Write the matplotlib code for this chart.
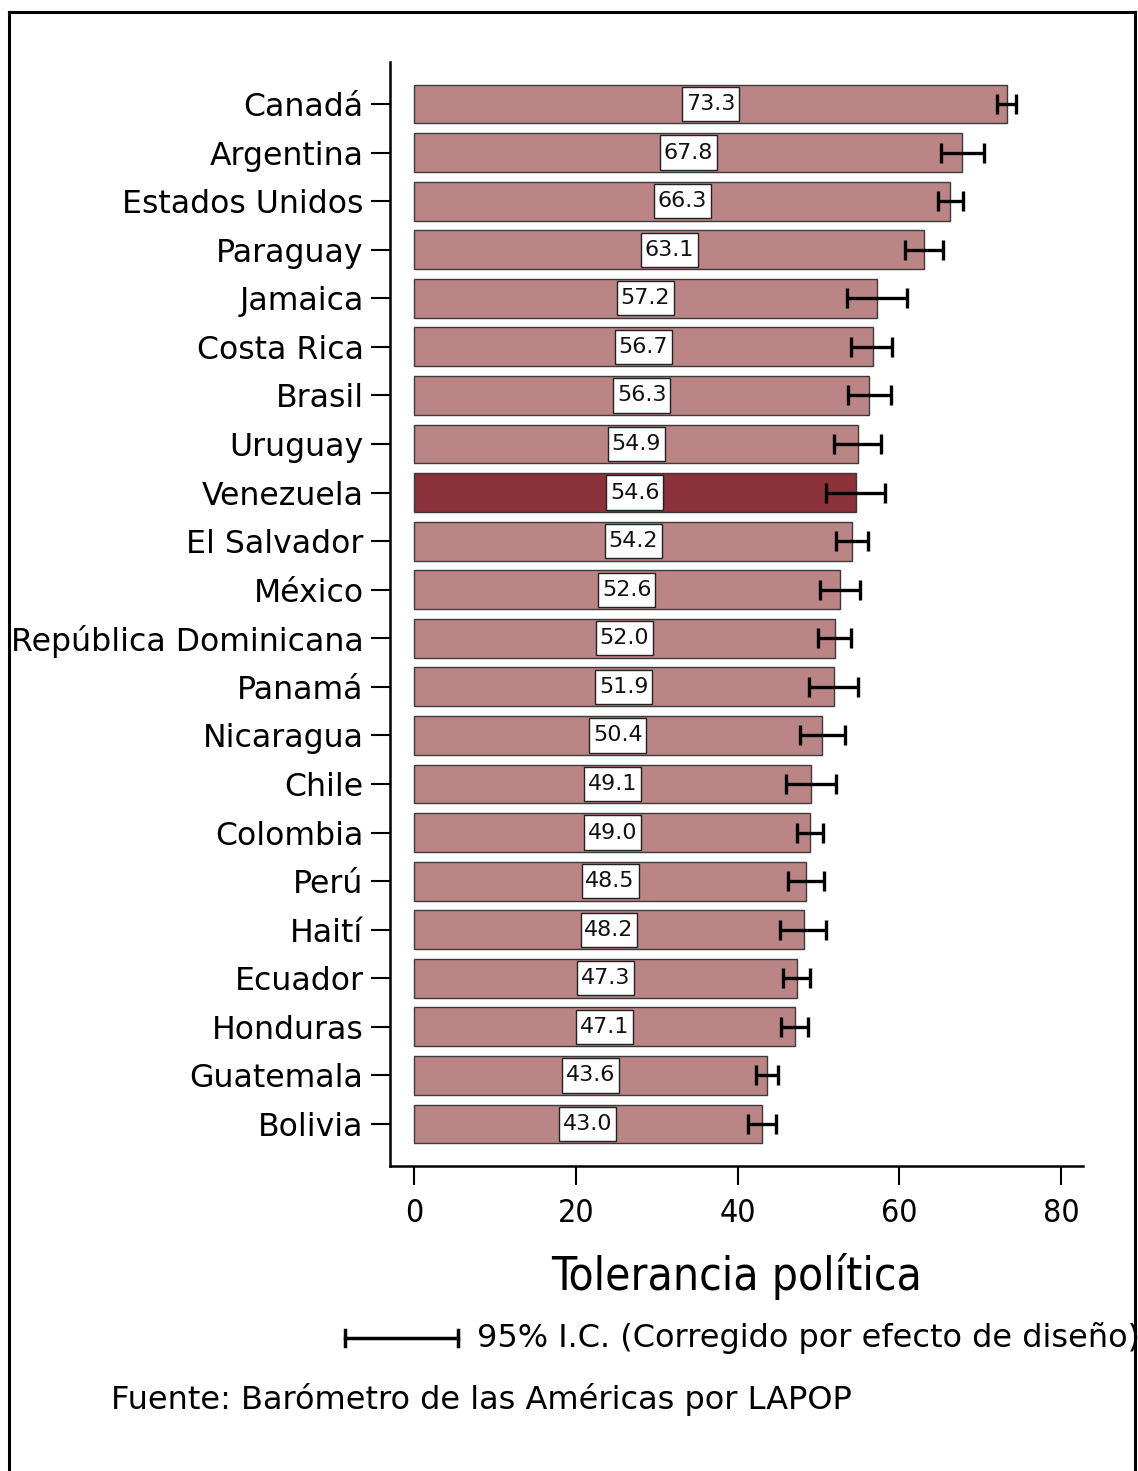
import matplotlib
matplotlib.use("Agg")
import matplotlib.pyplot as plt
from matplotlib.lines import Line2D

countries = ["Canadá", "Argentina", "Estados Unidos", "Paraguay", "Jamaica",
             "Costa Rica", "Brasil", "Uruguay", "Venezuela", "El Salvador",
             "México", "República Dominicana", "Panamá", "Nicaragua", "Chile",
             "Colombia", "Perú", "Haití", "Ecuador", "Honduras", "Guatemala",
             "Bolivia"]
values = [73.3, 67.8, 66.3, 63.1, 57.2, 56.7, 56.3, 54.9, 54.6, 54.2, 52.6,
          52.0, 51.9, 50.4, 49.1, 49.0, 48.5, 48.2, 47.3, 47.1, 43.6, 43.0]
ci_low = [72.1, 65.2, 64.8, 60.7, 53.5, 54.0, 53.7, 51.9, 50.9, 52.2, 50.2,
          50.0, 48.8, 47.7, 46.0, 47.4, 46.2, 45.3, 45.6, 45.4, 42.3, 41.3]
ci_high = [74.4, 70.4, 67.9, 65.4, 61.0, 59.1, 59.0, 57.7, 58.2, 56.1, 55.1,
           54.0, 54.9, 53.3, 52.2, 50.6, 50.7, 50.9, 49.0, 48.7, 45.0, 44.8]
xticks = [0, 20, 40, 60, 80]
highlight = "Venezuela"

base_color = "#BC8585"
high_color = "#8B323A"

W, H = 1138, 1471
fig = plt.figure(figsize=(W / 100, H / 100), dpi=100)
# axes box in pixels: left 390, right 1083, top 62, bottom 1166
ax = fig.add_axes([390 / W, 1 - 1166 / H, (1083 - 390) / W, (1166 - 62) / H])

ypos = list(range(len(countries)))
colors = [high_color if c == highlight else base_color for c in countries]
ax.barh(ypos, values, height=0.8, color=colors, edgecolor="#3a3a3a", linewidth=1.0, zorder=2)

xerr = [[v - lo for v, lo in zip(values, ci_low)], [hi - v for v, hi in zip(values, ci_high)]]
ax.errorbar(values, ypos, xerr=xerr, fmt="none", ecolor="black", elinewidth=2.4,
            capsize=7, capthick=2.4, zorder=4)

for y, v in zip(ypos, values):
    ax.text(v / 2, y, f"{v:.1f}", ha="center", va="center", fontsize=16,
            family="DejaVu Sans", color="#111111", zorder=5,
            bbox=dict(boxstyle="square,pad=0.17", facecolor="white",
                      edgecolor="#222222", linewidth=1.0, mutation_aspect=1.9))

ax.set_xlim(-2.97, 82.7)
ax.set_ylim(len(countries) - 1 + 0.865, -0.865)
ax.set_yticks(ypos)
ax.set_yticklabels(countries, fontsize=22.7, family="DejaVu Sans")
ax.set_xticks(xticks)
ax.set_xticklabels([str(t) for t in xticks], fontsize=23, family="DejaVu Sans",
                   fontstretch="condensed")
ax.tick_params(axis="y", length=14, width=1.5, pad=5, color="black")
ax.tick_params(axis="x", length=14, width=1.5, pad=9, color="black")
ax.spines["top"].set_visible(False)
ax.spines["right"].set_visible(False)
ax.spines["left"].set_linewidth(1.8)
ax.spines["bottom"].set_linewidth(1.8)
ax.set_xlabel("Tolerancia política", fontsize=33, family="DejaVu Sans",
              fontstretch="condensed")
ax.xaxis.set_label_coords((737 - 390) / (1083 - 390), -(1277 - 1166) / (1166 - 62))
ax.xaxis.label.set_va("center")

# legend entry for the confidence interval
ly = 1 - 1338 / H
fig.add_artist(Line2D([345 / W, 458 / W], [ly, ly], color="black", lw=2.5))
for xp in (345, 458):
    fig.add_artist(Line2D([xp / W, xp / W], [ly - 8 / H, ly + 8 / H], color="black", lw=2.5))
fig.text(477 / W, ly, "95% I.C. (Corregido por efecto de diseño)", fontsize=23,
         family="DejaVu Sans", va="center", ha="left")
fig.text(111 / W, 1 - 1400 / H, "Fuente: Barómetro de las Américas por LAPOP", fontsize=23,
         family="DejaVu Sans", va="center", ha="left")

# outer frame
fig.add_artist(Line2D([9 / W, 9 / W], [0, 1 - 12 / H], color="black", lw=2.2))
fig.add_artist(Line2D([9 / W, 1135 / W], [1 - 12 / H, 1 - 12 / H], color="black", lw=2.2))
fig.add_artist(Line2D([1135 / W, 1135 / W], [0, 1 - 12 / H], color="black", lw=2.2))

fig.savefig("out.png", dpi=100, facecolor="white")
